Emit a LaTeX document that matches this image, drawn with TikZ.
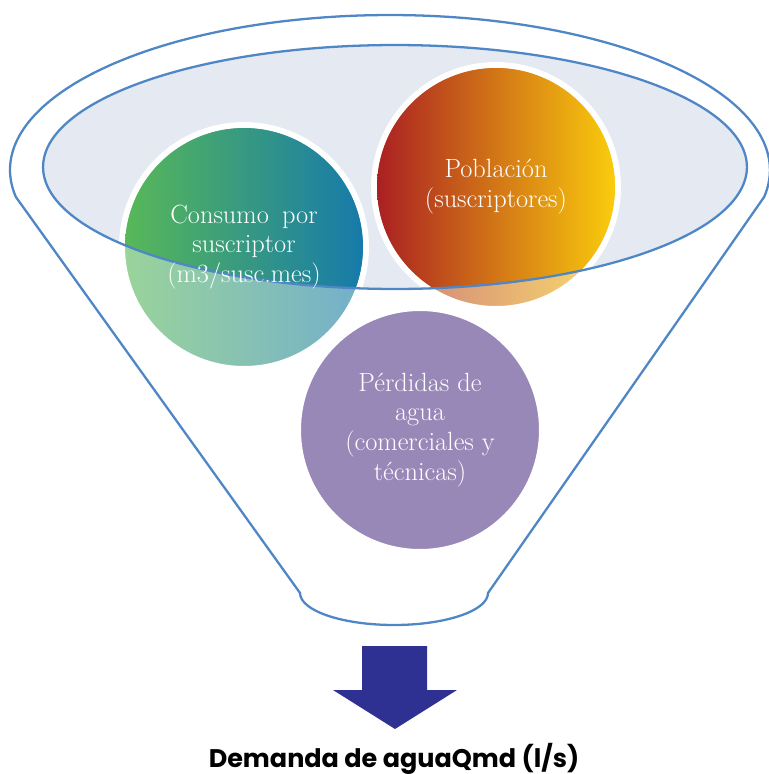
\documentclass[tikz,border=0pt]{standalone}
\usepackage{fontspec}
\newfontfamily\demandafont{Poppins}
\usetikzlibrary{positioning}

\definecolor{funnelblue}{RGB}{79,134,198}
\definecolor{mouthfill}{RGB}{228,233,242}
\definecolor{consumoL}{RGB}{88,184,88}
\definecolor{consumoR}{RGB}{22,122,170}
\definecolor{poblaL}{RGB}{170,32,34}
\definecolor{poblaM}{RGB}{208,118,40}
\definecolor{poblaR}{RGB}{250,204,12}
\definecolor{perdidas}{RGB}{152,136,184}
\definecolor{arrowblue}{RGB}{46,49,146}

\tikzset{
  funnel/.style={draw=funnelblue, line width=1.3pt},
  bubble/.style={circle, minimum size=4.88cm, inner sep=0pt, draw=white, line width=3.4pt},
  bubbletext/.style={text=white, align=center, font=\fontsize{15}{17}\selectfont},
}

\begin{document}
\begin{tikzpicture}[x=0.02cm,y=-0.02cm]
  \useasboundingbox (0,0) rectangle (768,774);

  % funnel outline and mouth
  \draw[funnel, fill=white] (390,170) ++(190:7.6cm and 3.1cm)
    arc[start angle=190, end angle=-10, x radius=7.6cm, y radius=3.1cm]
    -- (488,593) arc[start angle=0, end angle=-180, x radius=1.88cm, y radius=0.64cm]
    -- cycle;
  \fill[mouthfill] (395,167) ellipse [x radius=7.04cm, y radius=2.44cm];

  % bubbles, paler outside the mouth
  \node[bubble, left color=consumoL, right color=consumoR, fill opacity=0.6] (consumo) at (244,247) {};
  \node[bubble, left color=poblaL, middle color=poblaM, right color=poblaR, fill opacity=0.6] (poblacion) at (496,187) {};
  \node[bubble, fill=perdidas] (perdidas) at (420,430) {};

  \begin{scope}
    \clip (395,167) ellipse [x radius=7.04cm, y radius=2.44cm];
    \shade[left color=consumoL, right color=consumoR] (consumo.center) circle (2.38cm);
    \shade[left color=poblaL, middle color=poblaM, right color=poblaR] (poblacion.center) circle (2.38cm);
  \end{scope}
  \draw[funnel] (395,167) ellipse [x radius=7.04cm, y radius=2.44cm];

  \node[bubbletext] (consumo-txt) at (consumo) {Consumo\enspace por\\suscriptor\\(m3/susc.mes)};
  \node[bubbletext] (poblacion-txt) at (poblacion) {Población\\(suscriptores)};
  \node[bubbletext] (perdidas-txt) at (perdidas) {Pérdidas de\\agua\\(comerciales y\\técnicas)};

  % output arrow
  \fill[arrowblue] (362,646) -- (427,646) -- (427,690) -- (457,690) -- (395,729)
    -- (333,690) -- (362,690) -- cycle;
  \node[anchor=base, font=\demandafont\bfseries\fontsize{14.5}{17}\selectfont] (demanda) at (394,767)
    {Demanda de aguaQmd (l/s)};
\end{tikzpicture}
\end{document}
